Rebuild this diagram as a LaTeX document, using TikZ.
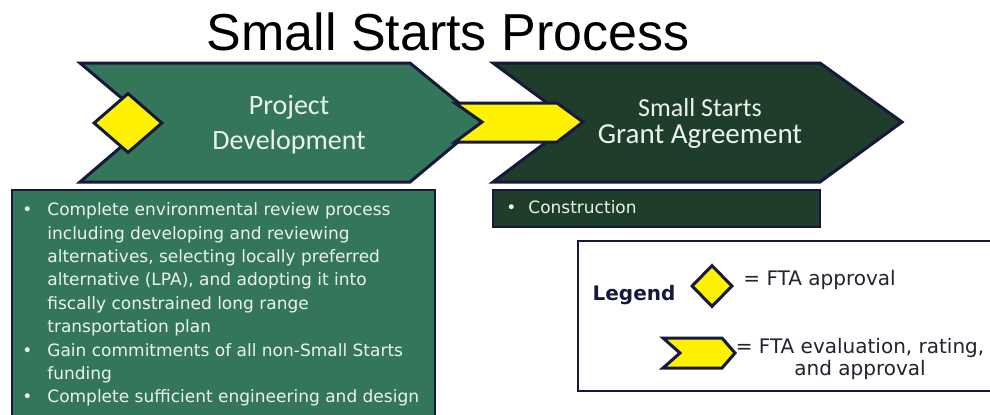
\documentclass[tikz,border=0pt]{standalone}
\usepackage{fontspec}
\usepackage{xcolor}
\usepackage{tikz}
\usetikzlibrary{positioning,shapes.geometric}
\newfontfamily\titlefont{Liberation Sans}
\newfontfamily\calfont{Carlito}
\newfontfamily\verfont{DejaVu Sans}
\definecolor{pdgreen}{RGB}{52,118,89}
\definecolor{gagreen}{RGB}{30,61,43}
\definecolor{navy}{RGB}{22,24,60}
\definecolor{paletext}{RGB}{236,243,237}
\definecolor{legtext}{RGB}{34,34,48}

\begin{document}
\begin{tikzpicture}[x=0.5pt,y=-0.5pt,
    chev/.style={draw=navy,line width=1.5pt,line join=miter},
    ylw/.style={fill=yellow,draw=navy,line width=1.5pt,line join=miter},
    txtbox/.style={draw=navy,line width=0.7pt},
    bul/.style={inner sep=0pt,text=paletext,font=\verfont\fontsize{8.5}{11.7}\selectfont},
    leg/.style={inner sep=0pt,text=legtext,font=\verfont\fontsize{10}{11}\selectfont}]
  \clip (0,0) rectangle (990,414);
  \fill[white] (0,0) rectangle (990,414);
  % title
  \node[anchor=base,inner sep=0pt,font=\titlefont\fontsize{26}{30}\selectfont] (title) at (448,50) {Small Starts Process};
  % boxes below the chevrons
  \draw[txtbox,fill=pdgreen] (12,190) rectangle (435,430);
  \draw[txtbox,fill=gagreen] (493,190) rectangle (820,227);
  \draw[navy,line width=1.1pt,fill=white] (578,241) rectangle (1000,391);
  % chevrons
  \draw[chev,fill=gagreen] (493,63) -- (820,63) -- (902,122) -- (820,182) -- (493,182) -- (573,122) -- cycle;
  \draw[chev,fill=pdgreen] (80,63) -- (410,63) -- (482,122) -- (410,182) -- (80,182) -- (150,122) -- cycle;
  \draw[ylw] (455,103) -- (557,103) -- (583,122) -- (557,142) -- (455,142) -- (482,122) -- cycle;
  \node[diamond,ylw,inner sep=0pt,minimum width=34.5pt,minimum height=30pt] (D) at (128,123) {};
  % chevron texts
  \node[align=center,inner sep=0pt,text=paletext,font=\calfont\fontsize{14}{17.5}\selectfont] (PD) at (289,125) {Project\\Development};
  \node[inner sep=0pt,text=paletext,font=\calfont\fontsize{13}{15}\selectfont] (SS) at (700,108) {Small Starts};
  \node[inner sep=0pt,text=paletext,font=\calfont\fontsize{14.5}{17}\selectfont] (GA) at (700,137) {Grant Agreement};
  % bullet lists
  \node[bul,anchor=north west] (PDlist) at (22,199) {%
    \begin{tabular}{@{}p{12.5pt}@{}l@{}}
    \textbullet & Complete environmental review process\\
      & including developing and reviewing\\
      & alternatives, selecting locally preferred\\
      & alternative (LPA), and adopting it into\\
      & fiscally constrained long range\\
      & transportation plan\\
    \textbullet & Gain commitments of all non-Small Starts\\
      & funding\\
    \textbullet & Complete sufficient engineering and design
    \end{tabular}};
  \node[bul,anchor=north west] (GAlist) at (506,197) {%
    \begin{tabular}{@{}p{11pt}@{}l@{}}
    \textbullet & Construction
    \end{tabular}};
  % legend
  \node[leg,text=navy,font=\verfont\bfseries\fontsize{10}{11}\selectfont] (Leg) at (634,295) {Legend};
  \node[diamond,ylw,inner sep=0pt,minimum width=20.5pt,minimum height=21pt] (LD) at (712,286) {};
  \node[leg,anchor=west] (LDtxt) at (743,280) {= FTA approval};
  \draw[ylw] (663,338) -- (722,338) -- (735,353) -- (722,368) -- (663,368) -- (680,353) -- cycle;
  \node[leg,align=center] (LCtxt) at (860,359) {= FTA evaluation, rating,\\and approval};
\end{tikzpicture}
\end{document}
